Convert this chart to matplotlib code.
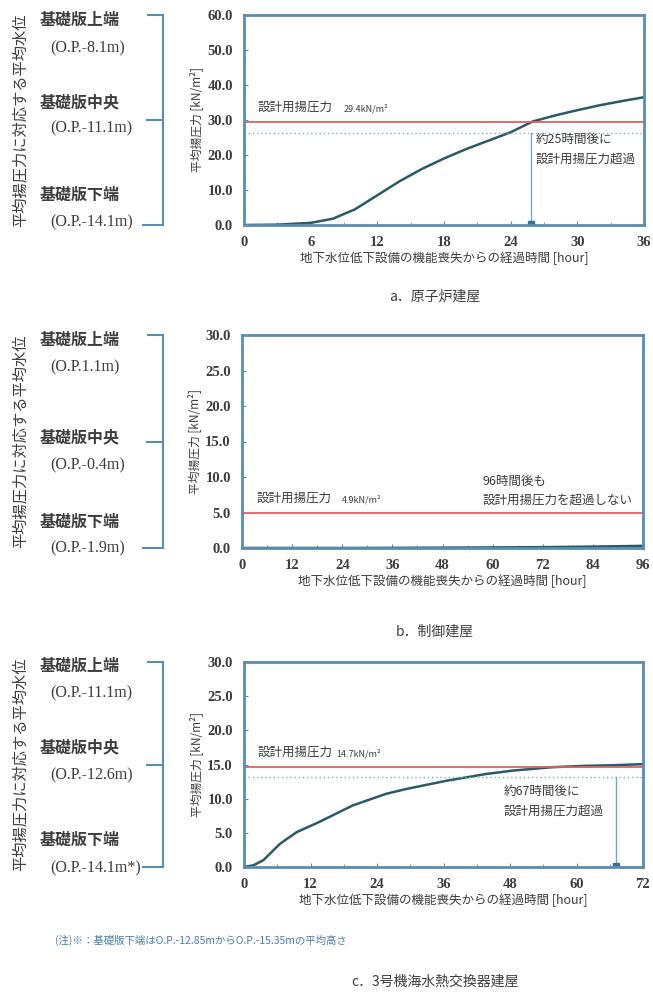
import matplotlib
matplotlib.use("Agg")
import matplotlib.pyplot as plt
from matplotlib.lines import Line2D
import numpy as np

plt.rcParams['font.family'] = ['Noto Sans CJK JP', 'DejaVu Sans']

# a. reactor building
hours_a = [0, 3, 6, 8, 10, 12, 14, 16, 18, 20, 22, 24, 26, 28, 30, 32, 34, 36]
press_a = [0, 0.1, 0.6, 1.8, 4.5, 8.5, 12.5, 16.0, 19.0, 21.7, 24.1, 26.5, 29.6, 31.3, 32.8, 34.2, 35.4, 36.5]
# b. control building
hours_b = [0, 12, 24, 36, 48, 60, 72, 84, 96]
press_b = [0, 0.0, 0.0, 0.02, 0.05, 0.08, 0.12, 0.2, 0.3]
# c. unit 3 seawater heat exchanger building
hours_c = [0, 1.7, 3.5, 6.5, 9.5, 13.6, 19.6, 25.6, 29.2, 36.4, 43.6, 48.4, 55.5, 61.5, 67, 72]
press_c = [0, 0.25, 1.0, 3.4, 5.1, 6.6, 9.0, 10.7, 11.4, 12.6, 13.6, 14.1, 14.6, 14.8, 14.9, 15.05]

design = [29.4, 4.9, 14.7]
dotted = [26.3, 4.9, 13.1]
cross_time = [25.8, None, 67.1]
design_txt = ["29.4kN/m²", "4.9kN/m²", "14.7kN/m²"]
note_txt = ["約25時間後に\n設計用揚圧力超過", "96時間後も\n設計用揚圧力を超過しない", "約67時間後に\n設計用揚圧力超過"]
xmax = [36, 96, 72]
xstep = [6, 12, 12]
xminor = [3, 6, 6]
ymax = [60, 30, 30]
ystep = [10, 5, 5]
level_names = ["基礎版上端", "基礎版中央", "基礎版下端"]
levels = [["(O.P.-8.1m)", "(O.P.-11.1m)", "(O.P.-14.1m)"],
          ["(O.P.1.1m)", "(O.P.-0.4m)", "(O.P.-1.9m)"],
          ["(O.P.-11.1m)", "(O.P.-12.6m)", "(O.P.-14.1m*)"]]
captions = ["a．原子炉建屋", "b．制御建屋", "c．3号機海水熱交換器建屋"]

W, H = 653, 993
fig = plt.figure(figsize=(W / 100, H / 100), dpi=100)

def fx(p):
    return p / W

def fy(p):
    return 1 - p / H

spine_c = "#5a8db0"
text_c = "#3d3d3d"
serif = ["Liberation Serif", "DejaVu Serif"]

# axes boxes in pixels: left, right, top, bottom
boxes = [(244, 644, 15, 225), (242, 643, 335, 548), (244, 643, 662, 867)]
data = [(hours_a, press_a), (hours_b, press_b), (hours_c, press_c)]
text_y = [[20, 48, 102, 128, 195, 222],
          [340, 367, 437, 465, 522, 548],
          [666, 693, 747, 775, 840, 868]]
note_pos = [(0.73, 0.36), (0.60, 0.27), (0.65, 0.32)]
caption_y = [296, 632, 982]

for i in range(3):
    l, r, t, b = boxes[i]
    ax = fig.add_axes([fx(l), fy(b), (r - l) / W, (b - t) / H])
    x, y = data[i]
    ax.plot(x, y, color="#2a5a66", lw=1.8)
    ax.axhline(design[i], color="#e06060", lw=1.3)
    ax.axhline(dotted[i], color="#7fb0d0" if i != 1 else "#e08080", lw=1.0, ls=(0, (1, 2)))
    if cross_time[i] is not None:
        ax.plot([cross_time[i], cross_time[i]], [0, dotted[i]], color="#6fa8d0", lw=1.0)
        ax.plot(cross_time[i], 0.4 * ystep[i] / 10, marker="s", ms=4, color="#3a6f9a")
    ax.set_xlim(0, xmax[i])
    ax.set_ylim(0, ymax[i])
    ax.set_xticks(np.arange(0, xmax[i] + 1, xstep[i]))
    ax.set_xticks(np.arange(0, xmax[i] + 1, xminor[i]), minor=True)
    ax.set_yticks(np.arange(0, ymax[i] + 1, ystep[i]))
    ax.set_yticklabels([f"{v:.1f}" for v in np.arange(0, ymax[i] + 1, ystep[i])])
    ax.tick_params(direction="in", color=spine_c, length=3, labelsize=10.5,
                   labelcolor=text_c, pad=8)
    ax.tick_params(which="minor", direction="in", color=spine_c, length=2)
    for lab in ax.get_xticklabels() + ax.get_yticklabels():
        lab.set_family(serif)
        lab.set_fontweight("bold")
    for s in ax.spines.values():
        s.set_color(spine_c)
        s.set_linewidth(2)
    ax.set_ylabel("平均揚圧力 [kN/m²]", fontsize=8.5, color=text_c, labelpad=3)
    ax.set_xlabel("地下水位低下設備の機能喪失からの経過時間 [hour]", fontsize=9,
                  color=text_c, labelpad=2)
    ax.text(0.035, design[i] + 0.04 * ymax[i], "設計用揚圧力", fontsize=9, color=text_c,
            transform=ax.get_yaxis_transform(), va="bottom")
    ax.text(0.25 if i != 2 else 0.23, design[i] + 0.04 * ymax[i], design_txt[i], fontsize=6.5,
            color=text_c, transform=ax.get_yaxis_transform(), va="bottom")
    ax.text(note_pos[i][0], note_pos[i][1], note_txt[i], fontsize=9, color=text_c,
            transform=ax.transAxes, va="center", linespacing=1.6)

    # left-hand level labels and bracket
    ty = text_y[i]
    for k in range(3):
        fig.text(fx(40), fy(ty[2 * k]), level_names[k], fontsize=11.5, color=text_c,
                 va="center", fontweight="bold")
        fig.text(fx(50), fy(ty[2 * k + 1]), levels[i][k], fontsize=11.5, color=text_c,
                 va="center", family=serif)
    bx = fx(163)
    mid = (t + b) / 2
    for seg in [([bx, bx], [fy(t), fy(b)]),
                ([fx(148), bx], [fy(t), fy(t)]),
                ([fx(143), bx], [fy(b), fy(b)]),
                ([fx(147), bx], [fy(mid), fy(mid)])]:
        fig.add_artist(Line2D(seg[0], seg[1], color=spine_c, lw=1.5, transform=fig.transFigure))
    fig.text(fx(20), fy(mid), "平均揚圧力に対応する平均水位", rotation=90, fontsize=11,
             color=text_c, va="center", ha="center")
    fig.text(fx(435), fy(caption_y[i]), captions[i], fontsize=10, color=text_c,
             ha="center", va="center")

fig.text(fx(55), fy(940), "(注)※：基礎版下端はO.P.-12.85mからO.P.-15.35mの平均高さ",
         fontsize=7.5, color="#4a7fa8", va="center")

fig.savefig("out.png", dpi=100)
